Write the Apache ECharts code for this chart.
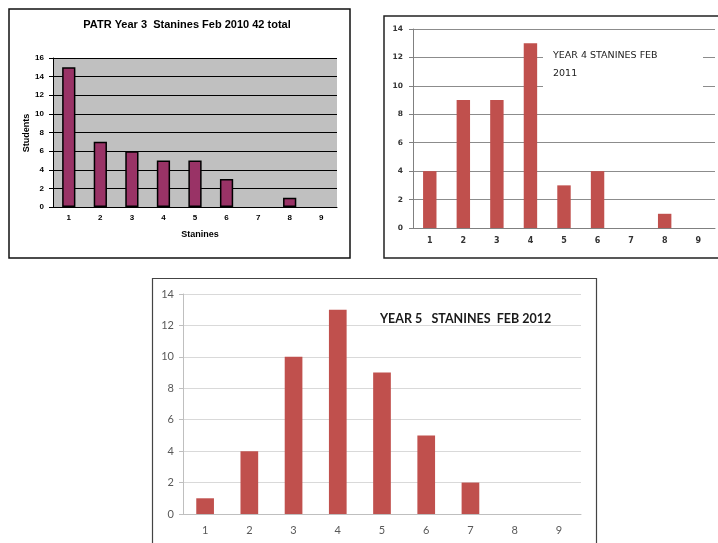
<!DOCTYPE html>
<html>
<head>
<meta charset="utf-8">
<script src="https://cdn.jsdelivr.net/npm/echarts@6/dist/echarts.min.js"></script>
<style>
  html, body { margin: 0; padding: 0; background: #fff; }
  #chart { width: 718px; height: 543px; }
</style>
</head>
<body>
<div id="chart"></div>
<script>
// Stanine categories shared by all three panels
const stanines = ['1', '2', '3', '4', '5', '6', '7', '8', '9'];
// Number of students in each stanine band
const year3Feb2010 = [15, 7, 6, 5, 5, 3, 0, 1, 0];
const year4Feb2011 = [4, 9, 9, 13, 3, 4, 0, 1, 0];
const year5Feb2012 = [1, 4, 10, 13, 9, 5, 2, 0, 0];
// Value-axis ranges
const year3Max = 16;
const year45Max = 14;

// empty bands draw no bar (avoids a bordered sliver on the axis)
const asBars = arr => arr.map(v => (v === 0 ? '-' : v));

const chart = echarts.init(document.getElementById('chart'), null, { renderer: 'canvas' });

const arialBold = { fontFamily: 'Liberation Sans, Arial, sans-serif', fontWeight: 'bold' };

chart.setOption({
  animation: false,
  backgroundColor: '#ffffff',
  title: [
    {
      text: 'PATR Year 3  Stanines Feb 2010 42 total',
      left: 187, top: 19, textAlign: 'center', padding: 0,
      textStyle: Object.assign({ fontSize: 11, color: '#000' }, arialBold)
    },
    {
      text: 'YEAR 4 STANINES FEB\n2011',
      left: 553, top: 47, padding: 0,
      textStyle: { fontSize: 9.5, color: '#222', fontFamily: 'DejaVu Sans, sans-serif', lineHeight: 18, fontWeight: 'normal' }
    },
    {
      text: 'YEAR 5   STANINES  FEB 2012',
      left: 380, top: 312, padding: 0,
      textStyle: { fontSize: 12.5, color: '#1a1a1a', fontFamily: 'Lato, Open Sans, sans-serif', fontWeight: 'bold' }
    }
  ],
  grid: [
    { left: 53, top: 58, width: 284, height: 149, show: true, backgroundColor: '#c0c0c0', borderWidth: 0 },
    { left: 413, top: 29, width: 302, height: 199 },
    { left: 183, top: 294, width: 398, height: 220 }
  ],
  xAxis: [
    {
      gridIndex: 0, type: 'category', data: stanines,
      axisLine: { lineStyle: { color: '#000', width: 1 } },
      axisTick: { length: 4, lineStyle: { color: '#000' } },
      axisLabel: Object.assign({ fontSize: 8, color: '#000', margin: 7 }, arialBold)
    },
    {
      gridIndex: 1, type: 'category', data: stanines,
      axisLine: { lineStyle: { color: '#808080', width: 1 } },
      axisTick: { length: 4, lineStyle: { color: '#808080' } },
      axisLabel: { fontSize: 8, color: '#333', margin: 9, fontWeight: 'bold', fontFamily: 'DejaVu Sans, sans-serif' }
    },
    {
      gridIndex: 2, type: 'category', data: stanines,
      axisLine: { lineStyle: { color: '#bfbfbf', width: 1 } },
      axisTick: { length: 4, lineStyle: { color: '#bfbfbf' } },
      axisLabel: { fontSize: 11, color: '#595959', margin: 11, fontFamily: 'Lato, sans-serif' }
    }
  ],
  yAxis: [
    {
      gridIndex: 0, type: 'value', min: 0, max: year3Max, interval: 2,
      axisLine: { show: true, lineStyle: { color: '#000' } },
      axisTick: { show: true, length: 4, lineStyle: { color: '#000' } },
      splitLine: { lineStyle: { color: '#000', width: 1 } },
      axisLabel: Object.assign({ fontSize: 8, color: '#000', margin: 9 }, arialBold)
    },
    {
      gridIndex: 1, type: 'value', min: 0, max: year45Max, interval: 2,
      axisLine: { show: true, lineStyle: { color: '#808080' } },
      axisTick: { show: true, length: 4, lineStyle: { color: '#808080' } },
      splitLine: { lineStyle: { color: '#8c8c8c', width: 1 } },
      axisLabel: { fontSize: 7.5, color: '#333', margin: 10, fontWeight: 'bold', fontFamily: 'DejaVu Sans, sans-serif' }
    },
    {
      gridIndex: 2, type: 'value', min: 0, max: year45Max, interval: 2,
      axisLine: { show: true, lineStyle: { color: '#bfbfbf' } },
      axisTick: { show: true, length: 4, lineStyle: { color: '#bfbfbf' } },
      splitLine: { lineStyle: { color: '#d9d9d9', width: 1 } },
      axisLabel: { fontSize: 11, color: '#595959', margin: 9, fontFamily: 'Lato, sans-serif' }
    }
  ],
  series: [
    {
      type: 'bar', xAxisIndex: 0, yAxisIndex: 0, data: asBars(year3Feb2010),
      barWidth: '42%', z: 3,
      itemStyle: { color: '#993366', borderColor: '#000', borderWidth: 1.5 }
    },
    {
      type: 'bar', xAxisIndex: 1, yAxisIndex: 1, data: asBars(year4Feb2011),
      barWidth: '40%', z: 3,
      itemStyle: { color: '#c0504d' }
    },
    {
      type: 'bar', xAxisIndex: 2, yAxisIndex: 2, data: asBars(year5Feb2012),
      barWidth: '40%', z: 3,
      itemStyle: { color: '#c0504d' }
    }
  ],
  graphic: [
    // panel frames
    { type: 'rect', shape: { x: 9, y: 9, width: 341, height: 249 }, style: { fill: 'none', stroke: '#111', lineWidth: 1.5 }, z: 100 },
    { type: 'rect', shape: { x: 384, y: 16, width: 340, height: 242 }, style: { fill: 'none', stroke: '#222', lineWidth: 1.5 }, z: 100 },
    { type: 'rect', shape: { x: 152.5, y: 278.5, width: 444, height: 280 }, style: { fill: 'none', stroke: '#444', lineWidth: 1.2 }, z: 100 },
    // white backing behind the Year 4 caption
    { type: 'rect', shape: { x: 543, y: 38, width: 160, height: 60 }, style: { fill: '#fff' }, z: 5 },
    // axis titles of the Year 3 panel
    {
      type: 'text', x: 27, y: 133, rotation: Math.PI / 2,
      style: Object.assign({ text: 'Students', fontSize: 9, fill: '#000', textAlign: 'center', textVerticalAlign: 'middle' }, arialBold)
    },
    {
      type: 'text', x: 200, y: 235,
      style: Object.assign({ text: 'Stanines', fontSize: 9, fill: '#000', textAlign: 'center', textVerticalAlign: 'middle' }, arialBold)
    }
  ]
});
</script>
</body>
</html>
